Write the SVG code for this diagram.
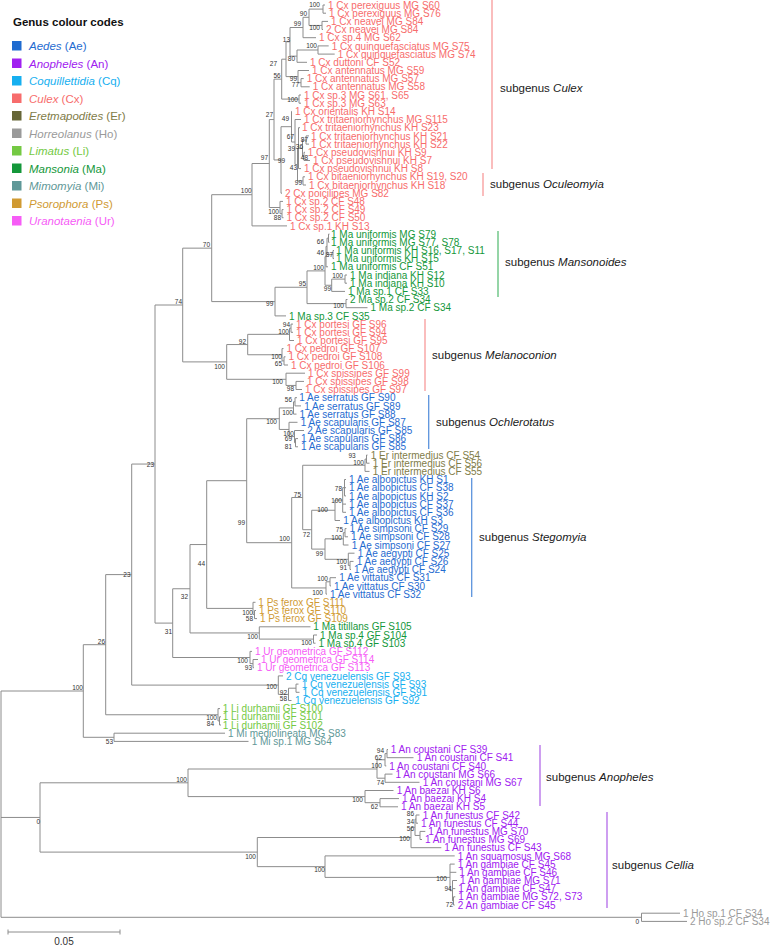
<svg xmlns="http://www.w3.org/2000/svg" width="773" height="946" viewBox="0 0 773 946">
<style>
text{font-family:"Liberation Sans",Arial,sans-serif}
.t{font-size:10px}
.s{font-size:6.5px;fill:#333;text-anchor:end}
.sg{font-size:11.5px;fill:#1a1a1a}
.lg{font-size:11.5px}
.br{fill:none;stroke:#8c8c8c;stroke-width:1}
.bar{fill:none;stroke-width:1.3}
.ae{fill:#1f6bd0}.an{fill:#a020f0}.cq{fill:#16aff0}.cx{fill:#f76c6c}.er{fill:#7f7c48}.ho{fill:#9a9a9a}
.li{fill:#74c943}.ma{fill:#14973a}.mi{fill:#5f9898}.ps{fill:#d09a32}.ur{fill:#f65cf6}
</style>
<rect width="773" height="946" fill="#fff"/>
<g id="legend">
<text x="13" y="26" style="font-size:11.5px;font-weight:bold" fill="#111">Genus colour codes</text>
<rect x="12" y="41" width="9.5" height="9.5" class="ae"/><text x="29" y="50" class="lg ae"><tspan font-style="italic">Aedes</tspan> (Ae)</text>
<rect x="12" y="58.5" width="9.5" height="9.5" class="an"/><text x="29" y="67.5" class="lg an"><tspan font-style="italic">Anopheles</tspan> (An)</text>
<rect x="12" y="76" width="9.5" height="9.5" class="cq"/><text x="29" y="85" class="lg cq"><tspan font-style="italic">Coquillettidia</tspan> (Cq)</text>
<rect x="12" y="93.5" width="9.5" height="9.5" class="cx"/><text x="29" y="102.5" class="lg cx"><tspan font-style="italic">Culex</tspan> (Cx)</text>
<rect x="12" y="111" width="9.5" height="9.5" fill="#666637"/><text x="29" y="120" class="lg er"><tspan font-style="italic">Eretmapodites</tspan> (Er)</text>
<rect x="12" y="128.5" width="9.5" height="9.5" class="ho"/><text x="29" y="137.5" class="lg ho"><tspan font-style="italic">Horreolanus</tspan> (Ho)</text>
<rect x="12" y="146" width="9.5" height="9.5" class="li"/><text x="29" y="155" class="lg li"><tspan font-style="italic">Limatus</tspan> (Li)</text>
<rect x="12" y="163.5" width="9.5" height="9.5" class="ma"/><text x="29" y="172.5" class="lg ma"><tspan font-style="italic">Mansonia</tspan> (Ma)</text>
<rect x="12" y="181" width="9.5" height="9.5" class="mi"/><text x="29" y="190" class="lg mi"><tspan font-style="italic">Mimomyia</tspan> (Mi)</text>
<rect x="12" y="198.5" width="9.5" height="9.5" class="ps"/><text x="29" y="207.5" class="lg ps"><tspan font-style="italic">Psorophora</tspan> (Ps)</text>
<rect x="12" y="216" width="9.5" height="9.5" class="ur"/><text x="29" y="225" class="lg ur"><tspan font-style="italic">Uranotaenia</tspan> (Ur)</text>
</g>
<g id="connectors" class="br">
<path d="M323 5V13.2M323 5H325M323 13.2H326"/>
<path d="M322 21.4V29.5M322 21.4H328M322 29.5H323"/>
<path d="M309 9.1V25.45M309 9.1H323M309 25.45H322"/>
<path d="M303 17.3V37.7M303 17.3H309M303 37.7H316"/>
<path d="M318 45.9V54.1M318 45.9H328.7M318 54.1H334.7"/>
<path d="M297 50V62.3M297 50H318M297 62.3H307"/>
<path d="M301 78.6V86.8H309.7M301 78.6H303.7"/>
<path d="M298 70.5V82.7M298 70.5H309M298 82.7H301"/>
<path d="M290 27.5V56.15M290 27.5H303M290 56.15H297"/>
<path d="M286 41.8V76.6M286 41.8H290M286 76.6H298"/>
<path d="M299 95V103.2M299 95H301M299 103.2H301"/>
<path d="M281.7 59.2V99.1M281.7 59.2H286M281.7 99.1H299"/>
<path d="M303 176.8V185M303 176.8H305M303 185H306"/>
<path d="M306 135.9V144.1M306 135.9H309M306 144.1H309"/>
<path d="M304 152.3V160.5M304 152.3H305M304 160.5H310"/>
<path d="M302.5 140V156.4M302.5 140H306M302.5 156.4H304"/>
<path d="M298.5 127.7V168.6M298.5 127.7H300M298.5 148.2H302.5M298.5 168.6H301"/>
<path d="M297.5 148.15V180.9M297.5 148.15H298.5M297.5 180.9H303"/>
<path d="M295 119.5V164.5M295 119.5H301M295 164.5H297.5"/>
<path d="M291.5 111.4V142M291.5 111.4H292M291.5 142H295"/>
<path d="M281 126.7V193.2M281 126.7H291.5M281 193.2H282"/>
<path d="M274 79.15V159.95M274 79.15H281.7M274 159.95H281"/>
<path d="M282 209.6V217.7M282 209.6H283.5M282 217.7H283.5"/>
<path d="M280 201.4V213.65M280 201.4H283M280 213.65H282"/>
<path d="M269.3 119.55V207.5M269.3 119.55H274M269.3 207.5H280"/>
<path d="M252 163.5V225.9M252 163.5H269.3M252 225.9H287"/>
<path d="M328.5 234.1V242.3M328.5 234.1H329.5M328.5 242.3H329.5"/>
<path d="M333 250.5V258.6M333 250.5H334M333 258.6H334"/>
<path d="M327 238.2V254.55M327 238.2H328.5M327 254.55H333"/>
<path d="M326 246.4V266.8M326 246.4H327M326 266.8H328"/>
<path d="M345 275V283.2M345 275H347M345 283.2H347"/>
<path d="M331.7 279.1V291.4M331.7 279.1H345M331.7 291.4H345"/>
<path d="M325 256.6V285.25M325 256.6H326M325 285.25H331.7"/>
<path d="M346 299.5V307.7M346 299.5H347.5M346 307.7H367.5"/>
<path d="M307 270.9V303.6M307 270.9H325M307 303.6H346"/>
<path d="M275 287.25V315.9M275 287.25H307M275 315.9H286"/>
<path d="M211.7 194.7V301.6M211.7 194.7H252M211.7 301.6H275"/>
<path d="M291 324.1V332.3M291 324.1H293M291 332.3H293"/>
<path d="M289.5 328.2V340.5M289.5 328.2H291M289.5 340.5H294"/>
<path d="M284 356.8V365M284 356.8H285.5M284 365H288"/>
<path d="M282 348.6V360.9M282 348.6H283.5M282 360.9H284"/>
<path d="M247.7 334.35V354.75M247.7 334.35H289.5M247.7 354.75H282"/>
<path d="M296 381.4V389.5M296 381.4H304M296 389.5H302"/>
<path d="M286 373.2V385.45M286 373.2H305M286 385.45H296"/>
<path d="M226.7 344.55V379.3M226.7 344.55H247.7M226.7 379.3H286"/>
<path d="M182.7 248.15V361.9M182.7 248.15H211.7M182.7 361.9H226.7"/>
<path d="M295 397.7V405.9M295 397.7H297M295 405.9H301"/>
<path d="M293.5 401.8V414.1M293.5 401.8H295M293.5 414.1H296.5"/>
<path d="M295.5 438.6V446.8M295.5 438.6H298M295.5 446.8H298"/>
<path d="M294.5 430.5V442.7M294.5 430.5H304M294.5 442.7H295.5"/>
<path d="M289 422.3V436.6M289 422.3H297.5M289 436.6H294.5"/>
<path d="M279.3 407.95V429.45M279.3 407.95H293.5M279.3 429.45H289"/>
<path d="M366.5 455V463.2M366.5 455H367.5M366.5 463.2H369.5"/>
<path d="M365 459.1V471.4M365 459.1H366.5M365 471.4H369.5"/>
<path d="M344.5 479.5V495.9M344.5 479.5H346M344.5 487.7H346M344.5 495.9H346"/>
<path d="M342.7 487.7V512.3M342.7 487.7H344.5M342.7 504.1H346M342.7 512.3H346"/>
<path d="M335 500V520.5M335 500H342.7M335 520.5H340"/>
<path d="M345 528.6V536.8M345 528.6H346.5M345 536.8H348"/>
<path d="M343.3 532.7V545M343.3 532.7H345M343.3 545H348.5"/>
<path d="M350 561.4V569.5M350 561.4H353.5M350 569.5H351"/>
<path d="M348.3 553.2V565.45M348.3 553.2H354.5M348.3 565.45H350"/>
<path d="M325 538.85V559.3M325 538.85H343.3M325 559.3H348.3"/>
<path d="M311.7 510.25V549.1M311.7 510.25H335M311.7 549.1H325"/>
<path d="M302.7 465.25V529.7M302.7 465.25H365M302.7 529.7H311.7"/>
<path d="M330 577.7V585.9M330 577.7H336M330 585.9H331"/>
<path d="M326 581.8V594.1M326 581.8H330M326 594.1H327"/>
<path d="M291.7 497.5V587.95M291.7 497.5H302.7M291.7 587.95H326"/>
<path d="M246.7 418.7V542.7M246.7 418.7H279.3M246.7 542.7H291.7"/>
<path d="M254.5 610.5V618.6M254.5 610.5H256M254.5 618.6H257"/>
<path d="M253 602.3V614.55M253 602.3H255.5M253 614.55H254.5"/>
<path d="M206.7 480.7V608.4M206.7 480.7H246.7M206.7 608.4H253"/>
<path d="M313.5 635V643.2M313.5 635H317M313.5 643.2H315.5"/>
<path d="M259.3 626.8V639.1M259.3 626.8H310.5M259.3 639.1H313.5"/>
<path d="M190 544.55V632.95M190 544.55H206.7M190 632.95H259.3"/>
<path d="M253 659.5V667.7M253 659.5H258M253 667.7H254"/>
<path d="M250 651.4V663.6M250 651.4H252M250 663.6H253"/>
<path d="M172.7 588.75V657.5M172.7 588.75H190M172.7 657.5H250"/>
<path d="M155 305V623.1M155 305H182.7M155 623.1H172.7"/>
<path d="M296 684.1V692.3M296 684.1H298.5M296 692.3H299.5"/>
<path d="M288.5 688.2V700.5M288.5 688.2H296M288.5 700.5H291.5"/>
<path d="M278.3 675.9V694.35M278.3 675.9H283M278.3 694.35H288.5"/>
<path d="M131.7 464.05V685.1M131.7 464.05H155M131.7 685.1H278.3"/>
<path d="M219.5 716.8V725M219.5 716.8H221M219.5 725H221"/>
<path d="M218 708.6V720.9M218 708.6H220M218 720.9H219.5"/>
<path d="M105.7 574.6V714.75M105.7 574.6H131.7M105.7 714.75H218"/>
<path d="M114 733.2V741.4M114 733.2H225M114 741.4H248.5"/>
<path d="M83.3 644.7V737.3M83.3 644.7H105.7M83.3 737.3H114"/>
<path d="M387 749.5V757.7M387 749.5H388M387 757.7H413.5"/>
<path d="M385 753.6V765.9M385 753.6H387M385 765.9H386.3"/>
<path d="M385 774.1V782.3M385 774.1H392.5M385 782.3H419.5"/>
<path d="M377 759.75V778.2M377 759.75H385M377 778.2H385"/>
<path d="M380 798.6V806.8M380 798.6H399M380 806.8H398"/>
<path d="M365 790.5V802.7M365 790.5H393.5M365 802.7H380"/>
<path d="M188 769V796.6M188 769H377M188 796.6H365"/>
<path d="M416 815V823.2M416 815H419.5M416 823.2H418"/>
<path d="M420 831.4V839.5M420 831.4H425.3M420 839.5H422"/>
<path d="M415 819.1V835.45M415 819.1H416M415 835.45H420"/>
<path d="M411 827.3V847.7M411 827.3H415M411 847.7H441.3"/>
<path d="M453.5 896.8V905M453.5 896.8H455.3M453.5 905H454.7"/>
<path d="M452.5 880.5V900.9M452.5 880.5H457M452.5 888.6H455.3M452.5 900.9H453.5"/>
<path d="M450 864.1V890.7M450 864.1H454.7M450 872.3H456.3M450 890.7H452.5"/>
<path d="M325 855.9V877.4M325 855.9H454.7M325 877.4H450"/>
<path d="M257.3 837.5V866.65M257.3 837.5H411M257.3 866.65H325"/>
<path d="M40 782.8V852.1M40 782.8H188M40 852.1H257.3"/>
<path d="M641.5 913.2V921.4M641.5 913.2H680M641.5 921.4H687"/>
<path d="M1 691V917.3M1 691H83.3M1 817.45H40M1 917.3H641.5"/>
</g>
<g id="supports">
<text class="s" x="320" y="7">100</text><text class="s" x="307" y="16.3">90</text><text class="s" x="320" y="30.3">100</text>
<text class="s" x="301" y="26.3">99</text><text class="s" x="290" y="41.6">13</text><text class="s" x="317" y="48.3">100</text>
<text class="s" x="295" y="61">80</text><text class="s" x="297" y="81">99</text><text class="s" x="299" y="87.3">77</text>
<text class="s" x="277" y="66.3">27</text><text class="s" x="280.7" y="78.3">56</text><text class="s" x="298" y="102.3">100</text>
<text class="s" x="273" y="116.6">27</text><text class="s" x="289" y="121.3">49</text><text class="s" x="294" y="139.3">67</text>
<text class="s" x="308" y="142.3">87</text><text class="s" x="295" y="151.3">39</text><text class="s" x="303" y="149.3">36</text>
<text class="s" x="308" y="160.3">48</text><text class="s" x="297" y="170.3">43</text><text class="s" x="302" y="185.3">99</text>
<text class="s" x="268" y="160.3">97</text><text class="s" x="285" y="163">99</text><text class="s" x="251.7" y="193.3">100</text>
<text class="s" x="279" y="214.3">100</text><text class="s" x="281" y="220.3">88</text>
<text class="s" x="324" y="244">66</text><text class="s" x="324" y="255.3">46</text><text class="s" x="333" y="257.3">87</text>
<text class="s" x="324" y="269.6">100</text><text class="s" x="343" y="278">100</text><text class="s" x="331" y="291.3">99</text>
<text class="s" x="306" y="285.6">95</text><text class="s" x="344" y="308">100</text><text class="s" x="273.3" y="306.3">99</text>
<text class="s" x="210" y="247.3">70</text><text class="s" x="182" y="304.3">74</text>
<text class="s" x="290" y="327.3">94</text><text class="s" x="289" y="334">100</text><text class="s" x="246" y="344">92</text>
<text class="s" x="282" y="359">100</text><text class="s" x="282" y="366.3">65</text><text class="s" x="225" y="369">100</text>
<text class="s" x="283" y="384">100</text><text class="s" x="294" y="391.3">98</text>
<text class="s" x="292" y="401.6">56</text><text class="s" x="293" y="414.6">100</text><text class="s" x="277" y="424">100</text>
<text class="s" x="294" y="436.3">100</text><text class="s" x="292" y="441.3">69</text><text class="s" x="292" y="449.3">81</text>
<text class="s" x="355.7" y="458">93</text><text class="s" x="364" y="465">100</text><text class="s" x="301" y="497.3">75</text>
<text class="s" x="342" y="491.3">78</text><text class="s" x="342" y="503">100</text><text class="s" x="328" y="512.3">100</text>
<text class="s" x="245" y="524.6">99</text><text class="s" x="310" y="536.6">72</text><text class="s" x="343" y="532.3">75</text>
<text class="s" x="342" y="539.6">100</text><text class="s" x="290" y="541.3">100</text><text class="s" x="323" y="555.6">99</text>
<text class="s" x="347" y="564">100</text><text class="s" x="347" y="570.3">91</text><text class="s" x="328" y="580.6">100</text>
<text class="s" x="323" y="594.6">100</text><text class="s" x="205" y="566.3">44</text>
<text class="s" x="253" y="615.3">100</text><text class="s" x="253" y="621.3">58</text><text class="s" x="258" y="639">100</text>
<text class="s" x="312" y="645">100</text><text class="s" x="172" y="634.3">31</text><text class="s" x="188" y="599">32</text>
<text class="s" x="248" y="663.3">100</text><text class="s" x="252" y="670.3">93</text>
<text class="s" x="154" y="466.5">23</text><text class="s" x="130.5" y="577">23</text>
<text class="s" x="105" y="644">26</text><text class="s" x="83" y="690.3">100</text>
<text class="s" x="277" y="689.3">100</text><text class="s" x="287" y="695.3">92</text><text class="s" x="287" y="701.3">58</text>
<text class="s" x="217" y="720.3">100</text><text class="s" x="214" y="726.3">84</text><text class="s" x="113" y="743.5">53</text>
<text class="s" x="384" y="753.3">94</text><text class="s" x="382" y="760">62</text><text class="s" x="382" y="768.3">100</text>
<text class="s" x="384" y="785">74</text><text class="s" x="187" y="781.6">100</text><text class="s" x="363" y="802.3">100</text>
<text class="s" x="378" y="809">62</text><text class="s" x="40" y="824.3">0</text>
<text class="s" x="414" y="816.3">86</text><text class="s" x="414" y="824.3">34</text><text class="s" x="414" y="831.3">56</text>
<text class="s" x="410" y="841.3">100</text><text class="s" x="256" y="859">100</text><text class="s" x="325" y="871.6">100</text>
<text class="s" x="447" y="880.6">100</text><text class="s" x="451.7" y="890.6">94</text><text class="s" x="453" y="906.6">72</text>
<text class="s" x="639" y="924">0</text>
</g>
<g id="leaves" class="t">
<g id="l1" class="cx"><text x="328" y="8.6">1 Cx perexiguus MG S60</text></g>
<g id="l2" class="cx"><text x="329" y="16.8">1 Cx perexiguus MG S76</text></g>
<g id="l3" class="cx"><text x="331" y="25">1 Cx neavei MG S84</text></g>
<g id="l4" class="cx"><text x="326" y="33.1">2 Cx neavei MG S84</text></g>
<g id="l5" class="cx"><text x="319" y="41.3">1 Cx sp.4 MG S62</text></g>
<g id="l6" class="cx"><text x="331.7" y="49.5">1 Cx quinquefasciatus MG S75</text></g>
<g id="l7" class="cx"><text x="337.7" y="57.7">1 Cx quinquefasciatus MG S74</text></g>
<g id="l8" class="cx"><text x="310" y="65.9">1 Cx duttoni CF S52</text></g>
<g id="l9" class="cx"><text x="312" y="74.1">1 Cx antennatus MG S59</text></g>
<g id="l10" class="cx"><text x="306.7" y="82.2">1 Cx antennatus MG S57</text></g>
<g id="l11" class="cx"><text x="312.7" y="90.4">1 Cx antennatus MG S58</text></g>
<g id="l12" class="cx"><text x="304" y="98.6">1 Cx sp.3 MG S61, S65</text></g>
<g id="l13" class="cx"><text x="304" y="106.8">1 Cx sp.3 MG S63</text></g>
<g id="l14" class="cx"><text x="295" y="115">1 Cx orientalis KH S14</text></g>
<g id="l15" class="cx"><text x="304" y="123.1">1 Cx tritaeniorhynchus MG S115</text></g>
<g id="l16" class="cx"><text x="302" y="131.3">1 Cx tritaeniorhynchus KH S23</text></g>
<g id="l17" class="cx"><text x="311" y="139.5">1 Cx tritaeniorhynchus KH S21</text></g>
<g id="l18" class="cx"><text x="311" y="147.7">1 Cx tritaeniorhynchus KH S22</text></g>
<g id="l19" class="cx"><text x="307.7" y="155.9">1 Cx pseudovishnui KH S9</text></g>
<g id="l20" class="cx"><text x="313" y="164.1">1 Cx pseudovishnui KH S7</text></g>
<g id="l21" class="cx"><text x="304" y="172.2">1 Cx pseudovishnui KH S8</text></g>
<g id="l22" class="cx"><text x="308" y="180.4">1 Cx bitaeniorhynchus KH S19, S20</text></g>
<g id="l23" class="cx"><text x="309" y="188.6">1 Cx bitaeniorhynchus KH S18</text></g>
<g id="l24" class="cx"><text x="285" y="196.8">2 Cx poicilipes MG S82</text></g>
<g id="l25" class="cx"><text x="286" y="205">1 Cx sp.2 CF S48</text></g>
<g id="l26" class="cx"><text x="286.5" y="213.2">1 Cx sp.2 CF S49</text></g>
<g id="l27" class="cx"><text x="286.5" y="221.3">1 Cx sp.2 CF S50</text></g>
<g id="l28" class="cx"><text x="290" y="229.5">1 Cx sp.1 KH S13</text></g>
<g id="l29" class="ma"><text x="331" y="237.7">1 Ma uniformis MG S79</text></g>
<g id="l30" class="ma"><text x="331" y="245.9">1 Ma uniformis MG S77, S78</text></g>
<g id="l31" class="ma"><text x="336" y="254.1">1 Ma uniformis KH S16, S17, S11</text></g>
<g id="l32" class="ma"><text x="336" y="262.2">1 Ma uniformis KH S15</text></g>
<g id="l33" class="ma"><text x="331" y="270.4">1 Ma uniformis CF S51</text></g>
<g id="l34" class="ma"><text x="350" y="278.6">1 Ma indiana KH S12</text></g>
<g id="l35" class="ma"><text x="350" y="286.8">1 Ma indiana KH S10</text></g>
<g id="l36" class="ma"><text x="348" y="295">1 Ma sp.1 CF S33</text></g>
<g id="l37" class="ma"><text x="350" y="303.1">2 Ma sp.2 CF S34</text></g>
<g id="l38" class="ma"><text x="370.5" y="311.3">1 Ma sp.2 CF S34</text></g>
<g id="l39" class="ma"><text x="289" y="319.5">1 Ma sp.3 CF S35</text></g>
<g id="l40" class="cx"><text x="296" y="327.7">1 Cx portesi GF S96</text></g>
<g id="l41" class="cx"><text x="296" y="335.9">1 Cx portesi GF S94</text></g>
<g id="l42" class="cx"><text x="297" y="344.1">1 Cx portesi GF S95</text></g>
<g id="l43" class="cx"><text x="286.5" y="352.2">1 Cx pedroi GF S107</text></g>
<g id="l44" class="cx"><text x="288.5" y="360.4">1 Cx pedroi GF S108</text></g>
<g id="l45" class="cx"><text x="291" y="368.6">1 Cx pedroi GF S106</text></g>
<g id="l46" class="cx"><text x="308" y="376.8">1 Cx spissipes GF S99</text></g>
<g id="l47" class="cx"><text x="307" y="385">1 Cx spissipes GF S98</text></g>
<g id="l48" class="cx"><text x="305" y="393.1">1 Cx spissipes GF S97</text></g>
<g id="l49" class="ae"><text x="299.3" y="401.3">1 Ae serratus GF S90</text></g>
<g id="l50" class="ae"><text x="304.3" y="409.5">1 Ae serratus GF S89</text></g>
<g id="l51" class="ae"><text x="299.5" y="417.7">1 Ae serratus GF S88</text></g>
<g id="l52" class="ae"><text x="300.7" y="425.9">1 Ae scapularis GF S87</text></g>
<g id="l53" class="ae"><text x="307.3" y="434.1">2 Ae scapularis GF S85</text></g>
<g id="l54" class="ae"><text x="301" y="442.2">1 Ae scapularis GF S86</text></g>
<g id="l55" class="ae"><text x="301" y="450.4">1 Ae scapularis GF S85</text></g>
<g id="l56" class="er"><text x="370.7" y="458.6">1 Er intermedius CF S54</text></g>
<g id="l57" class="er"><text x="372.7" y="466.8">1 Er intermedius CF S56</text></g>
<g id="l58" class="er"><text x="372.7" y="475">1 Er intermedius CF S55</text></g>
<g id="l59" class="ae"><text x="349" y="483.1">1 Ae albopictus KH S1</text></g>
<g id="l60" class="ae"><text x="349" y="491.3">1 Ae albopictus CF S38</text></g>
<g id="l61" class="ae"><text x="349" y="499.5">1 Ae albopictus KH S2</text></g>
<g id="l62" class="ae"><text x="349" y="507.7">1 Ae albopictus CF S37</text></g>
<g id="l63" class="ae"><text x="349" y="515.9">1 Ae albopictus CF S36</text></g>
<g id="l64" class="ae"><text x="343.3" y="524.1">1 Ae albopictus KH S3</text></g>
<g id="l65" class="ae"><text x="349.5" y="532.2">1 Ae simpsoni CF S29</text></g>
<g id="l66" class="ae"><text x="351" y="540.4">1 Ae simpsoni CF S28</text></g>
<g id="l67" class="ae"><text x="351.7" y="548.6">1 Ae simpsoni CF S27</text></g>
<g id="l68" class="ae"><text x="357.7" y="556.8">1 Ae aegypti CF S25</text></g>
<g id="l69" class="ae"><text x="356.7" y="565">1 Ae aegypti CF S26</text></g>
<g id="l70" class="ae"><text x="354" y="573.1">1 Ae aegypti CF S24</text></g>
<g id="l71" class="ae"><text x="339.3" y="581.3">1 Ae vittatus CF S31</text></g>
<g id="l72" class="ae"><text x="334" y="589.5">1 Ae vittatus CF S30</text></g>
<g id="l73" class="ae"><text x="330" y="597.7">1 Ae vittatus CF S32</text></g>
<g id="l74" class="ps"><text x="258.3" y="605.9">1 Ps ferox GF S111</text></g>
<g id="l75" class="ps"><text x="259" y="614.1">1 Ps ferox GF S110</text></g>
<g id="l76" class="ps"><text x="260" y="622.2">1 Ps ferox GF S109</text></g>
<g id="l77" class="ma"><text x="313.3" y="630.4">1 Ma titillans GF S105</text></g>
<g id="l78" class="ma"><text x="320" y="638.6">1 Ma sp.4 GF S104</text></g>
<g id="l79" class="ma"><text x="318.5" y="646.8">1 Ma sp.4 GF S103</text></g>
<g id="l80" class="ur"><text x="255" y="655">1 Ur geometrica GF S112</text></g>
<g id="l81" class="ur"><text x="261" y="663.1">1 Ur geometrica GF S114</text></g>
<g id="l82" class="ur"><text x="257" y="671.3">1 Ur geometrica GF S113</text></g>
<g id="l83" class="cq"><text x="286" y="679.5">2 Cq venezuelensis GF S93</text></g>
<g id="l84" class="cq"><text x="301.7" y="687.7">1 Cq venezuelensis GF S93</text></g>
<g id="l85" class="cq"><text x="302.5" y="695.9">1 Cq venezuelensis GF S91</text></g>
<g id="l86" class="cq"><text x="295" y="704.1">1 Cq venezuelensis GF S92</text></g>
<g id="l87" class="li"><text x="222.7" y="712.2">1 Li durhamii GF S100</text></g>
<g id="l88" class="li"><text x="222.7" y="720.4">1 Li durhamii GF S101</text></g>
<g id="l89" class="li"><text x="222.7" y="728.6">1 Li durhamii GF S102</text></g>
<g id="l90" class="mi"><text x="228" y="736.8">1 Mi mediolineata MG S83</text></g>
<g id="l91" class="mi"><text x="251.7" y="745">1 Mi sp.1 MG S64</text></g>
<g id="l92" class="an"><text x="390.7" y="753.1">1 An coustani CF S39</text></g>
<g id="l93" class="an"><text x="416.7" y="761.3">1 An coustani CF S41</text></g>
<g id="l94" class="an"><text x="389.3" y="769.5">1 An coustani CF S40</text></g>
<g id="l95" class="an"><text x="395.5" y="777.7">1 An coustani MG S66</text></g>
<g id="l96" class="an"><text x="422.7" y="785.9">1 An coustani MG S67</text></g>
<g id="l97" class="an"><text x="396.7" y="794.1">1 An baezai KH S6</text></g>
<g id="l98" class="an"><text x="402" y="802.2">1 An baezai KH S4</text></g>
<g id="l99" class="an"><text x="401" y="810.4">1 An baezai KH S5</text></g>
<g id="l100" class="an"><text x="422.7" y="818.6">1 An funestus CF S42</text></g>
<g id="l101" class="an"><text x="421" y="826.8">1 An funestus CF S44</text></g>
<g id="l102" class="an"><text x="428.3" y="835">1 An funestus MG S70</text></g>
<g id="l103" class="an"><text x="425" y="843.1">1 An funestus MG S69</text></g>
<g id="l104" class="an"><text x="444.3" y="851.3">1 An funestus CF S43</text></g>
<g id="l105" class="an"><text x="457.7" y="859.5">1 An squamosus MG S68</text></g>
<g id="l106" class="an"><text x="457.7" y="867.7">1 An gambiae CF S45</text></g>
<g id="l107" class="an"><text x="459.3" y="875.9">1 An gambiae CF S46</text></g>
<g id="l108" class="an"><text x="460" y="884.1">1 An gambiae MG S71</text></g>
<g id="l109" class="an"><text x="458.3" y="892.2">1 An gambiae CF S47</text></g>
<g id="l110" class="an"><text x="458.3" y="900.4">1 An gambiae MG S72, S73</text></g>
<g id="l111" class="an"><text x="457.7" y="908.6">2 An gambiae CF S45</text></g>
<g id="l112" class="ho"><text x="683" y="916.8">1 Ho sp.1 CF S34</text></g>
<g id="l113" class="ho"><text x="690" y="925">2 Ho sp.2 CF S34</text></g>
</g>
<g id="subgenera">
<g id="sg-culex"><path class="bar" stroke="#f79a9a" d="M492 0V169"/><text class="sg" x="500" y="92">subgenus <tspan font-style="italic">Culex</tspan></text></g>
<g id="sg-oculeomyia"><path class="bar" stroke="#f79a9a" d="M483 173V196"/><text class="sg" x="490" y="188">subgenus <tspan font-style="italic">Oculeomyia</tspan></text></g>
<g id="sg-mansonoides"><path class="bar" stroke="#5cbf78" d="M498 231V297"/><text class="sg" x="505" y="266">subgenus <tspan font-style="italic">Mansonoides</tspan></text></g>
<g id="sg-melanoconion"><path class="bar" stroke="#f79a9a" d="M425 319V391"/><text class="sg" x="432" y="359">subgenus <tspan font-style="italic">Melanoconion</tspan></text></g>
<g id="sg-ochlerotatus"><path class="bar" stroke="#5c93dd" d="M428.7 395V449"/><text class="sg" x="436" y="426">subgenus <tspan font-style="italic">Ochlerotatus</tspan></text></g>
<g id="sg-stegomyia"><path class="bar" stroke="#5c93dd" d="M471.7 478V597"/><text class="sg" x="479" y="541">subgenus <tspan font-style="italic">Stegomyia</tspan></text></g>
<g id="sg-anopheles"><path class="bar" stroke="#b36ae8" d="M540 745V806"/><text class="sg" x="546" y="781">subgenus <tspan font-style="italic">Anopheles</tspan></text></g>
<g id="sg-cellia"><path class="bar" stroke="#b36ae8" d="M607 812V908"/><text class="sg" x="612" y="869">subgenus <tspan font-style="italic">Cellia</tspan></text></g>
</g>
<g id="scale">
<path class="br" d="M8 932H120M8 929.5V934.5M120 929.5V934.5" stroke="#333"/>
<text x="64" y="945" text-anchor="middle" style="font-size:10px" fill="#333">0.05</text>
</g>
</svg>
